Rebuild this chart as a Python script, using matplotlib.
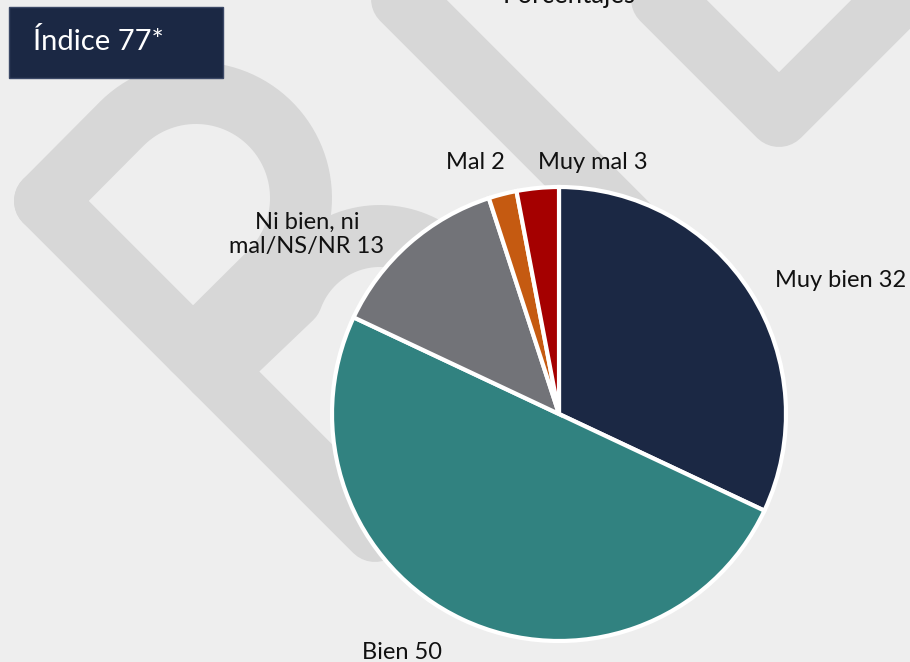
import numpy as np
import matplotlib.pyplot as plt
from matplotlib.patches import Rectangle

# Datos del grafico
categorias = ['Muy bien', 'Bien', 'Ni bien, ni\nmal/NS/NR', 'Mal', 'Muy mal']
valores = [32, 50, 13, 2, 3]
colores = ['#1b2844', '#318280', '#727378', '#c55a11', '#a50000']
titulo = 'Índice 77*'
subtitulo = 'Porcentajes'

# posicion de cada etiqueta respecto al centro del pastel (en radios)
pos_etiquetas = [(1.24, 0.59), (-0.69, -1.05), (-1.11, 0.79), (-0.37, 1.11), (0.15, 1.11)]

W, H = 910, 662
plt.rcParams['font.family'] = ['Lato', 'DejaVu Sans']
fig = plt.figure(figsize=(W / 100, H / 100), dpi=100)
fig.patch.set_facecolor('#eeeeee')

# STEP 1: fondo con la marca de agua
bg = fig.add_axes([0, 0, 1, 1])
bg.set_xlim(0, W)
bg.set_ylim(H, 0)
bg.axis('off')
wm = dict(color='#d7d7d7', lw=44.6, solid_capstyle='round', solid_joinstyle='round')


def arco(cx, cy, r, a0, a1, n=60):
    t = np.radians(np.linspace(a0, a1, n))
    return cx + r * np.cos(t), cy - r * np.sin(t)


# trazo principal de la "P"
bg.plot([45, 375], [201, 531], **wm)
ax_, ay_ = arco(196, 198, 105, 135, -45)
bg.plot(np.r_[45, ax_, 193], np.r_[201, ay_, 349], **wm)
# segundo arco
bx_, by_ = arco(380, 330, 94, 160, 0)
bg.plot(np.r_[215, bx_], np.r_[371, by_], **wm)
# bandas superiores
bg.plot([323, 650], [-80, 247], **wm)
bg.plot([583, 779, 975], [-80, 116, -80], **wm)

# STEP 2: pastel
ax = fig.add_axes([(559 - 227) / W, (H - 414 - 227) / H, 454 / W, 454 / H])
ax.pie(valores, colors=colores, startangle=90, counterclock=False, radius=1,
       wedgeprops=dict(edgecolor='white', linewidth=3))
ax.set_xlim(-1, 1)
ax.set_ylim(-1, 1)
ax.axis('off')

for cat, val, (dx, dy) in zip(categorias, valores, pos_etiquetas):
    ax.text(dx, dy, f'{cat} {val}', ha='center', va='center', fontsize=17,
            color='#111111', linespacing=1.2, clip_on=False)

# STEP 3: titulo y subtitulo
top = fig.add_axes([0, 0, 1, 1], zorder=5)
top.set_xlim(0, W)
top.set_ylim(H, 0)
top.axis('off')
top.add_patch(Rectangle((9, 7), 214, 71, facecolor='#1b2844', edgecolor='#3b4866', lw=1))
top.text(33, 50, titulo, color='white', fontsize=21, va='baseline', ha='left')
top.text(569, 3, subtitulo, color='#111111', fontsize=18.5, va='baseline', ha='center')

fig.savefig('out.png', dpi=100, facecolor=fig.get_facecolor())
